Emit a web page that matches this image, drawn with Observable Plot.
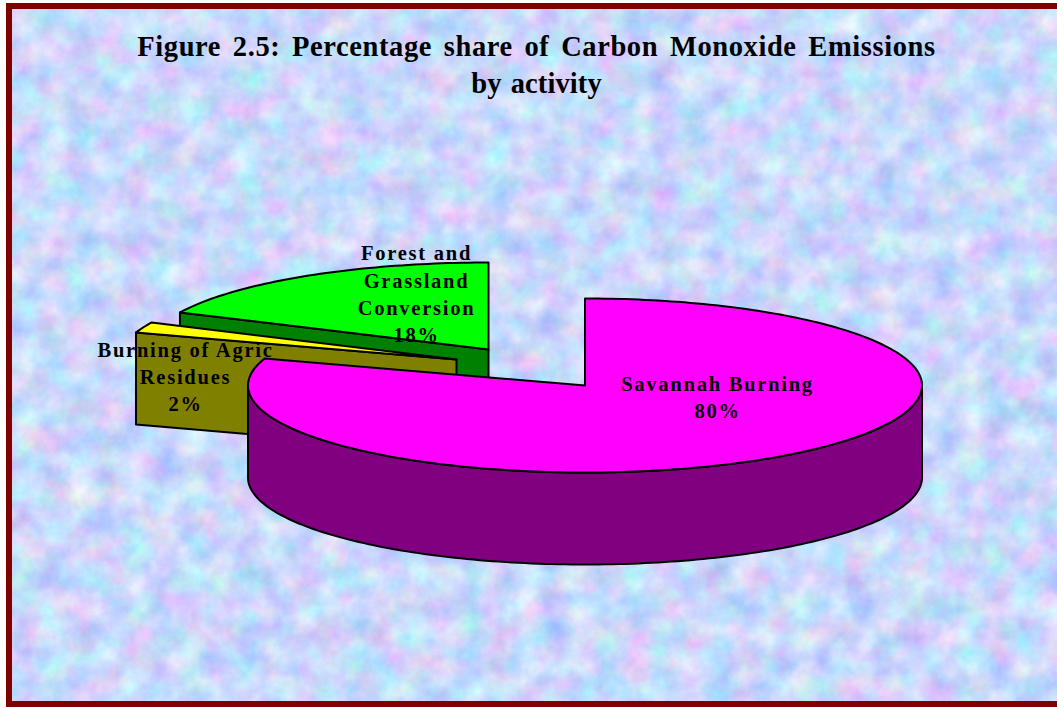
<!DOCTYPE html>
<html>
<head>
<meta charset="utf-8">
<script src="https://cdn.jsdelivr.net/npm/d3@7"></script>
<script src="https://cdn.jsdelivr.net/npm/@observablehq/plot@0.6"></script>
<style>
html,body{margin:0;padding:0;background:#fff;overflow:hidden}
#page{position:relative;width:1057px;height:708px;overflow:hidden}
#frame{position:absolute;left:6px;top:3px;width:1120px;height:692px;border:6px solid #800000;
background-image:url("data:image/svg+xml;utf8,<svg xmlns='http://www.w3.org/2000/svg' width='1120' height='700'><filter id='n' color-interpolation-filters='sRGB' x='0' y='0' width='100%' height='100%'><feTurbulence type='fractalNoise' baseFrequency='0.036' numOctaves='4' seed='11'/><feColorMatrix type='matrix' values='0.42 0 0 0 0.58  0 0.34 0 0 0.68  0 0 0.15 0 0.91  0 0 0 0 1'/></filter><rect width='1120' height='700' filter='url(%23n)'/></svg>");}
#title{position:absolute;left:0;top:28px;width:1073px;text-align:center;font:bold 28.5px/37px "Liberation Serif",serif;letter-spacing:.6px;word-spacing:4px;color:#000;margin:0}
#title span{letter-spacing:.1px;word-spacing:2px}
#chart{position:absolute;left:0;top:110px}
#chart svg{background:transparent;display:block}
#chart svg text{letter-spacing:1.75px;font-weight:bold}
</style>
</head>
<body>
<div id="page">
<div id="frame"></div>
<h1 id="title">Figure 2.5: Percentage share of Carbon Monoxide Emissions<br><span>by activity</span></h1>
<div id="chart"></div>
</div>
<script>
// Data
const categories = ["Savannah Burning", "Burning of Agric\nResidues", "Forest and\nGrassland\nConversion"];
const shares = [80, 2, 18];

// Style and layout, kept apart from the data
const topColors = ["#ff00ff", "#ffff00", "#00ff00"];
const wallColors = ["#800080", "#808000", "#008000"];
const centersX = [584.5, 456, 488];
const centersY = [385, 359, 349];
const radiiX = [337, 337, 341];
const labelX = [717, 185, 416];
const labelY = [395, 375, 292];
const radiusY = 87, depth = 92;

const arcs = d3.pie().sort(null).startAngle(0).endAngle(2 * Math.PI)(shares);

const rim = (i, a) => ({
  x: centersX[i] + radiiX[i] * Math.sin(a),
  y: centersY[i] - radiusY * Math.cos(a)
});
const sweep = (i, a0, a1) => {
  const n = Math.max(2, Math.ceil(Math.abs(a1 - a0) / 0.02));
  return d3.range(n + 1).map(k => rim(i, a0 + (a1 - a0) * k / n));
};
const drop = p => ({x: p.x, y: p.y + depth});
const close = ps => [...ps, ps[0]];

const polygon = (pts, fill) =>
  Plot.line(close(pts), {x: "x", y: "y", fill, stroke: "#000", strokeWidth: 2, curve: "linear"});

const marks = [];
// Back to front: forest, agric residues, savannah.
[2, 1, 0].forEach(i => {
  const {startAngle: a0, endAngle: a1} = arcs[i];
  const apex = {x: centersX[i], y: centersY[i]};
  if (i === 0) {
    const front = sweep(i, Math.PI / 2, 3 * Math.PI / 2);
    marks.push(polygon([...front, ...front.slice().reverse().map(drop)], wallColors[i]));
  } else {
    const tip = rim(i, a0);
    marks.push(polygon([apex, tip, drop(tip), drop(apex)], wallColors[i]));
  }
  marks.push(polygon([apex, ...sweep(i, a0, a1)], topColors[i]));
});

const labels = categories.map((c, i) => ({
  text: `${c}\n${shares[i]}%`, x: labelX[i], y: labelY[i]
}));
marks.push(Plot.text(labels, {
  x: "x", y: "y", text: "text", fill: "#000", fontSize: 20.5,
  fontFamily: "Liberation Serif", fontWeight: "bold", lineHeight: 1.33, textAnchor: "middle"
}));

const plot = Plot.plot({
  width: 1057, height: 598,
  margin: 0,
  x: {domain: [0, 1057], range: [0, 1057], axis: null},
  y: {domain: [110, 708], range: [0, 598], axis: null},
  style: {background: "transparent", overflow: "visible"},
  marks
});
document.getElementById("chart").appendChild(plot);
</script>
</body>
</html>
